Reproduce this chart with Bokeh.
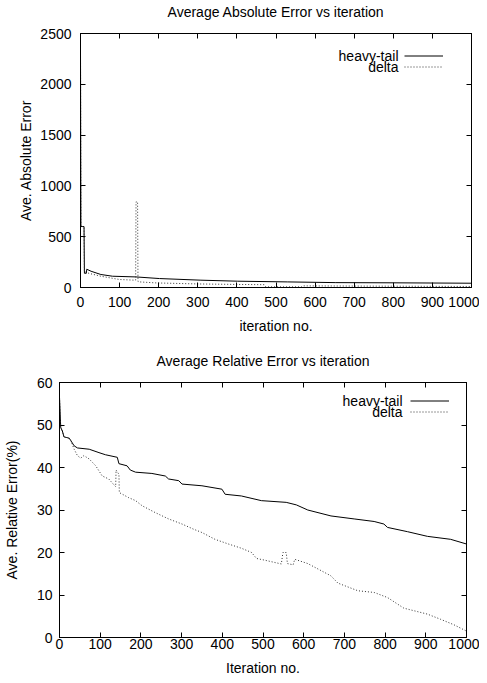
from bokeh.plotting import figure
from bokeh.models import (Range1d, LinearAxis, FixedTicker, CustomJSTickFormatter,
                          Legend, LegendItem, Label)
from bokeh.embed import file_html
from bokeh.resources import INLINE

# ---------------- data ----------------
abs_heavy_iter = [0, 1, 9, 10, 15, 16, 27, 52, 82, 142, 202, 308, 402, 530, 653, 800, 1000]
abs_heavy_val = [2300, 600, 600, 140, 140, 180, 160, 128, 111, 104, 88, 72, 62, 55, 48, 46, 42]

abs_delta_iter = [0, 1, 9, 10, 23, 52, 99, 138, 141, 142, 146, 147, 151, 194, 300, 400, 470,
                  474, 566, 570, 700, 850, 1000]
abs_delta_val = [2300, 600, 600, 155, 138, 111, 79, 72, 72, 843, 843, 60, 55, 45, 35, 30, 28,
                 6, 6, 16, 14, 12, 10]

rel_heavy_iter = [0, 3, 7, 11, 24, 28, 36, 44, 73, 97, 113, 142, 146, 166, 174, 187, 227, 260,
                  268, 293, 301, 350, 399, 407, 447, 496, 557, 582, 610, 667, 724, 773, 797,
                  806, 855, 904, 961, 1000]
rel_heavy_val = [56.5, 49.4, 48.6, 47.2, 46.9, 46.3, 45.1, 44.6, 44.3, 43.5, 43.0, 42.4, 40.9,
                 40.4, 39.4, 38.9, 38.6, 38.0, 37.3, 36.9, 36.1, 35.7, 34.9, 33.7, 33.3, 32.2,
                 31.8, 31.2, 30.0, 28.6, 27.9, 27.3, 26.7, 25.9, 24.9, 23.8, 23.1, 22.0]

rel_delta_iter = [0, 3, 7, 11, 20, 28, 36, 44, 52, 60, 73, 89, 105, 121, 134, 138, 139, 146,
                  147, 170, 187, 203, 235, 268, 301, 329, 350, 382, 415, 447, 472, 484, 504,
                  545, 549, 557, 560, 574, 578, 610, 667, 684, 733, 773, 806, 846, 904, 936,
                  969, 1000]
rel_delta_val = [56.5, 49.4, 48.6, 47.2, 47.0, 46.3, 44.3, 42.8, 42.2, 42.8, 42.0, 40.4, 38.0,
                 37.3, 35.9, 35.5, 39.4, 38.4, 34.1, 32.9, 32.2, 31.0, 29.4, 27.9, 26.7, 25.5,
                 24.7, 23.1, 22.0, 21.0, 20.0, 18.6, 18.2, 17.3, 20.0, 20.0, 17.4, 17.1, 18.4,
                 17.4, 14.5, 12.8, 11.0, 10.6, 9.4, 6.9, 5.5, 4.3, 3.0, 1.5]

x_ticks = [0, 100, 200, 300, 400, 500, 600, 700, 800, 900, 1000]
abs_y_ticks = [0, 500, 1000, 1500, 2000, 2500]
rel_y_ticks = [0, 10, 20, 30, 40, 50, 60]

series_names = ["heavy-tail", "delta"]

FONT = "Liberation Sans"
FS = "14px"
W = 479


def style_axis(ax, ticks, show_labels=True):
    ax.ticker = FixedTicker(ticks=ticks)
    ax.minor_tick_line_color = None
    ax.major_tick_in = 5
    ax.major_tick_out = 0
    ax.axis_line_color = "black"
    ax.major_tick_line_color = "black"
    ax.major_label_text_font = FONT
    ax.major_label_text_font_size = FS
    ax.major_label_text_color = "black"
    ax.axis_label_text_font = FONT
    ax.axis_label_text_font_size = FS
    ax.axis_label_text_font_style = "normal"
    ax.axis_label_text_color = "black"
    if not show_labels:
        ax.formatter = CustomJSTickFormatter(code="return ''")
        ax.major_label_standoff = 0
        ax.major_label_text_font_size = "1px"


def make_plot(title, height, borders, yticks, ymax, xlabel, ylabel,
              hx, hy, dx, dy, leg_text_x, leg_top_y, leg_glyph_x, x_std, xl_std, y_std, yl_std,
              title_gap):
    left, right, top, bottom = borders
    p = figure(width=W, height=height, output_backend="svg", toolbar_location=None,
               x_range=Range1d(0, 1000), y_range=Range1d(0, ymax),
               min_border_left=left, min_border_right=right,
               min_border_top=top, min_border_bottom=bottom)
    p.xgrid.visible = False
    p.ygrid.visible = False
    p.outline_line_color = "black"
    p.background_fill_color = "white"
    p.border_fill_color = "white"

    style_axis(p.xaxis[0], x_ticks)
    style_axis(p.yaxis[0], yticks)
    p.xaxis[0].axis_label = xlabel
    p.yaxis[0].axis_label = ylabel
    p.xaxis[0].major_label_standoff = x_std
    p.xaxis[0].axis_label_standoff = xl_std
    p.yaxis[0].major_label_standoff = y_std
    p.yaxis[0].axis_label_standoff = yl_std

    # mirrored tick axes (gnuplot style); the top one carries the chart title,
    # centred over the plotting frame
    top_ax = LinearAxis()
    right_ax = LinearAxis()
    style_axis(top_ax, x_ticks, show_labels=False)
    style_axis(right_ax, yticks, show_labels=False)
    top_ax.axis_label = title
    top_ax.axis_label_standoff = title_gap
    p.add_layout(top_ax, "above")
    p.add_layout(right_ax, "right")

    r1 = p.line(hx, hy, line_color="black", line_width=1)
    r2 = p.line(dx, dy, line_color="#333333", line_width=1, line_dash="1 2")

    fh = height - top - bottom
    row_h = 11
    leg = Legend(items=[LegendItem(label=" ", renderers=[r1]),
                        LegendItem(label=" ", renderers=[r2])],
                 location=(leg_glyph_x, fh - leg_top_y - 2 * row_h),
                 orientation="vertical", glyph_width=39, glyph_height=row_h,
                 label_height=row_h, label_width=0, label_standoff=0,
                 spacing=0, padding=0, margin=0,
                 label_text_font_size="1px",
                 border_line_alpha=0, background_fill_alpha=0)
    p.add_layout(leg)
    for i, name in enumerate(series_names):
        p.add_layout(Label(x=leg_text_x, y=fh - leg_top_y - row_h * (i + 0.5),
                           x_units="screen", y_units="screen", text=name,
                           text_align="right", text_baseline="middle",
                           text_font=FONT, text_font_size=FS, text_color="black"))
    return p


p1 = make_plot("Average Absolute Error vs iteration", 341, (80, 8, 33, 54), abs_y_ticks, 2500,
               "iteration no.", "Ave. Absolute Error",
               abs_heavy_iter, abs_heavy_val, abs_delta_iter, abs_delta_val,
               leg_text_x=318, leg_top_y=17, leg_glyph_x=324,
               x_std=9, xl_std=8, y_std=9, yl_std=3, title_gap=14)

p2 = make_plot("Average Relative Error vs iteration", 340, (57, 13, 41, 44), rel_y_ticks, 60,
               "Iteration no.", "Ave. Relative Error(%)",
               rel_heavy_iter, rel_heavy_val, rel_delta_iter, rel_delta_val,
               leg_text_x=343, leg_top_y=13, leg_glyph_x=351,
               x_std=1, xl_std=8, y_std=7, yl_std=14, title_gap=14)

open("out.html", "w").write(file_html([p1, p2], INLINE))
